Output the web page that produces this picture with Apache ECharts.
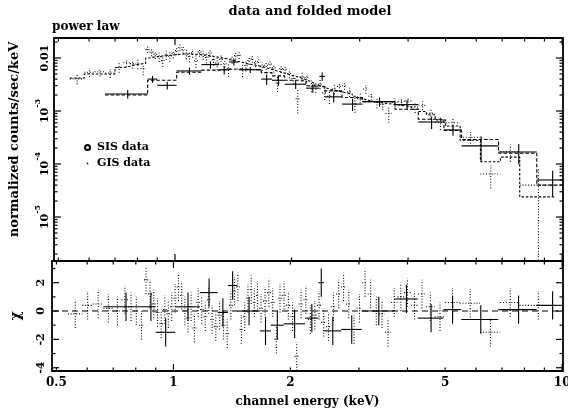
<!DOCTYPE html>
<html><head><meta charset="utf-8">
<script src="https://cdn.jsdelivr.net/npm/echarts@6/dist/echarts.min.js"></script>
<style>html,body{margin:0;padding:0;background:#fff}#c{width:568px;height:412px}</style>
</head><body><div id="c"></div>
<script>
// ---------- data ----------
const sisEdges = [0.535,0.583,0.62,0.66,0.70,0.735,0.765,0.79,0.815,0.84,0.86,0.88,0.90,0.92,0.94,0.96,0.98,1.00,1.02,1.04,1.06,1.08,1.10,1.12,1.145,1.17,1.195,1.22,1.245,1.27,1.30,1.33,1.36,1.39,1.42,1.45,1.48,1.51,1.54,1.57,1.60,1.63,1.66,1.70,1.74,1.78,1.82,1.86,1.90,1.95,2.00,2.05,2.10,2.16,2.22,2.28,2.34,2.40,2.47,2.54,2.62,2.70,2.78,2.87,2.96,3.06,3.16,3.27,3.38,3.50,3.63,3.77,3.92,4.08,4.26,4.46,4.70,5.00,5.45,6.15,6.93,7.77,9.60];
const sisFlux = [0.00403,0.0054,0.0055,0.0052,0.0066,0.00812,0.00784,0.0077,0.00632,0.0144,
  0.0129,0.0117,0.0106,0.0090,0.0114,0.0108,0.0122,0.0138,0.0158,0.0145,
  0.0119,0.0107,0.0125,0.0089,0.0129,0.0115,0.0102,0.0126,0.0093,0.0080,
  0.0094,0.0078,0.0063,0.0097,0.0111,0.0113,0.0060,0.0072,0.0090,0.0096,
  0.0081,0.0085,0.0070,0.0073,0.0077,0.0065,0.0034,0.0063,0.0061,0.0051,
  0.0041,0.0017,0.0044,0.0043,0.0030,0.0029,0.0032,0.0022,0.0019,0.0026,
  0.0029,0.0030,0.0023,0.00135,0.00177,0.0026,0.0019,0.00145,0.00134,0.0009,
  0.00147,0.00153,0.00154,0.00119,0.00128,0.00091,0.00061,0.00060,0.00032,0.000065,
  0.00017,0.00004];
const sisErr = [0.00084,0.0010,0.0010,0.0010,0.00132,0.0014,0.00148,0.00154,0.00158,0.0020,
  0.00208,0.00212,0.00216,0.0022,0.00224,0.00226,0.0023,0.00234,0.00236,0.00238,
  0.00238,0.00238,0.00236,0.00234,0.0023,0.00226,0.00222,0.00218,0.00212,0.00206,
  0.0020,0.00194,0.00186,0.0018,0.00174,0.00168,0.00162,0.00156,0.00152,0.00148,
  0.00144,0.0014,0.00134,0.00128,0.00122,0.00116,0.00112,0.00106,0.0010,0.00094,
  0.0009,0.0008,0.00088,0.00081,0.00075,0.00068,0.00064,0.00059,0.00055,0.00053,
  0.00051,0.00048,0.00046,0.00042,0.00037,0.0005,0.00033,0.00032,0.00031,0.0003,
  0.00029,0.00028,0.00026,0.00027,0.00025,0.00021,0.00017,0.00013,0.00008,0.00003,
  0.00006,0.00004];
const sisModel = [0.0042,0.0050,0.0050,0.0050,0.0066,0.0070,0.0074,0.0077,0.0079,0.0100,
  0.0104,0.0106,0.0108,0.0110,0.0112,0.0113,0.0115,0.0117,0.0118,0.0119,
  0.0119,0.0119,0.0118,0.0117,0.0115,0.0113,0.0111,0.0109,0.0106,0.0103,
  0.0100,0.0097,0.0093,0.0090,0.0087,0.0084,0.0081,0.0078,0.0076,0.0074,
  0.0072,0.0070,0.0067,0.0064,0.0061,0.0058,0.0056,0.0053,0.0050,0.0047,
  0.0045,0.0043,0.0040,0.0037,0.0034,0.0031,0.0029,0.0027,0.0025,0.0024,
  0.0023,0.0022,0.0021,0.0019,0.0017,0.0016,0.0015,0.00145,0.0014,0.00135,
  0.0013,0.00125,0.0012,0.00108,0.00098,0.00085,0.00068,0.00052,0.00028,0.00011,
  0.000135,0.000024];
const sisChi = [-0.2,0.4,0.5,0.2,0.0,0.8,0.3,0.0,-1.0,2.2,
  1.2,0.5,-0.1,-0.9,0.1,-0.2,0.3,0.9,1.7,1.1,
  0.0,-0.5,0.3,-1.2,0.6,0.1,-0.4,0.8,-0.6,-1.1,
  -0.3,-1.0,-1.6,0.4,1.4,1.7,-1.3,-0.4,0.9,1.5,
  0.6,1.1,0.2,0.7,1.3,0.6,-2.0,0.9,1.1,0.4,
  -0.4,-3.2,0.5,0.8,-0.6,-0.3,0.4,-0.8,-1.1,0.3,
  1.2,1.7,0.5,-1.3,0.2,2.0,1.2,0.0,-0.2,-1.5,
  0.6,1.0,1.3,0.4,1.2,0.3,-0.4,0.6,0.55,-1.5,
  0.6,0.4];

const gisEdges = [0.66,0.85,0.90,1.01,1.17,1.30,1.38,1.46,1.67,1.78,1.92,2.18,2.36,2.44,2.70,3.05,3.70,4.25,4.95,5.50,6.85,8.60,10.30];
const gisFlux = [0.0021,0.0040,0.00305,0.0057,0.0075,0.0060,0.0084,0.0060,0.0040,0.0038,0.0032,0.0027,0.0045,0.00185,0.00135,0.0015,0.00132,0.00062,0.00044,0.00022,0.000168,0.00005];
const gisErr = [0.0004,0.0006,0.0005,0.0009,0.0012,0.0011,0.0012,0.0008,0.0009,0.0008,0.0006,0.0005,0.0008,0.0004,0.00035,0.0003,0.00028,0.00016,0.0001,0.00011,0.00007,0.000025];
const gisModel = [0.0020,0.0038,0.0038,0.0054,0.0059,0.0061,0.0062,0.0060,0.0053,0.0046,0.0038,0.0030,0.0029,0.0024,0.0018,0.0015,0.00108,0.0007,0.00043,0.00029,0.00016,0.00004];
const gisChi = [0.3,0.3,-1.5,0.3,1.3,-0.1,1.8,0.0,-1.4,-1.0,-0.9,-0.5,2.0,-1.4,-1.3,0.0,0.85,-0.5,0.1,-0.6,0.1,0.4];
const CHI_ERR = 1;

// axes ranges and tick labels
const xRange = [0.487, 10.05];
const yTopRange = [1.48e-6, 0.02384];
const yBotRange = [-4.23, 3.53];
const xTickValues = [0.5,0.6,0.7,0.8,0.9,1,2,3,4,5,6,7,8,9,10];
const xMajorTicks = [1,10];
const xLabelValues = [0.5,1,2,5,10];
const xLabelTexts = ['0.5','1','2','5','10'];
const yTopMajorTicks = [1e-5,1e-4,1e-3,1e-2];
const yTopLabelValues = [0.01,1e-3,1e-4,1e-5];
const yTopLabelTexts = ['0.01','{m|10}{s|-3}','{m|10}{s|-4}','{m|10}{s|-5}'];
const yBotTickValues = [-4,-3,-2,-1,0,1,2,3];
const yBotMajorTicks = [-4,-2,0,2];
const yBotLabelValues = [-4,-2,0,2];
const yBotLabelTexts = ['-4','-2','0','2'];

// ---------- helpers ----------
const FONT = '"DejaVu Serif", "Liberation Serif", serif';
const ts = (size, extra) => Object.assign({fontFamily: FONT, fontSize: size, fontWeight: 'bold', color: '#000'}, extra || {});

const yTopTickValues = [];
for (let e = -6; e <= -2; e++) for (let k = 1; k <= 9; k++) {
  const v = k * Math.pow(10, e);
  if (v >= yTopRange[0] && v <= yTopRange[1]) yTopTickValues.push(v);
}

function binBars(edges, vals, errs, floor) {
  return vals.map((v, i) => {
    let vlo = v - errs[i];
    if (vlo <= floor) vlo = floor / 2;
    return [(edges[i] + edges[i+1]) / 2, v, edges[i], edges[i+1], vlo, v + errs[i]];
  });
}
function chiBars(edges, chi) {
  return chi.map((c, i) => [(edges[i] + edges[i+1]) / 2, c, edges[i], edges[i+1], c - CHI_ERR, c + CHI_ERR]);
}
function steps(edges, model) {
  const d = model.map((m, i) => [edges[i], m]);
  d.push([edges[edges.length - 1], model[model.length - 1]]);
  return d;
}
function errRender(style) {
  return function (params, api) {
    const xc = api.value(0), v = api.value(1), lo = api.value(2), hi = api.value(3), vlo = api.value(4), vhi = api.value(5);
    const a = api.coord([lo, v]), b = api.coord([hi, v]);
    const c = api.coord([xc, vlo]), d = api.coord([xc, vhi]);
    const st = () => Object.assign({stroke: '#000', fill: null}, style);
    return {type: 'group', children: [
      {type: 'line', shape: {x1: a[0], y1: a[1], x2: b[0], y2: b[1]}, style: st()},
      {type: 'line', shape: {x1: c[0], y1: c[1], x2: d[0], y2: d[1]}, style: st()}
    ]};
  };
}
const tickStyle = () => ({stroke: '#000', lineWidth: 1.2});
function xTickRender(params, api) {
  const cs = params.coordSys;
  const px = api.coord([api.value(0), api.value(1)])[0];
  const L = api.value(2) ? 7 : 3.5;
  return {type: 'group', children: [
    {type: 'line', shape: {x1: px, y1: cs.y, x2: px, y2: cs.y + L}, style: tickStyle()},
    {type: 'line', shape: {x1: px, y1: cs.y + cs.height, x2: px, y2: cs.y + cs.height - L}, style: tickStyle()}
  ]};
}
function yTickRender(params, api) {
  const cs = params.coordSys;
  const py = api.coord([api.value(0), api.value(1)])[1];
  const L = api.value(2) ? 7 : 3.5;
  return {type: 'group', children: [
    {type: 'line', shape: {x1: cs.x, y1: py, x2: cs.x + L, y2: py}, style: tickStyle()},
    {type: 'line', shape: {x1: cs.x + cs.width, y1: py, x2: cs.x + cs.width - L, y2: py}, style: tickStyle()}
  ]};
}
const supRich = {
  m: {fontFamily: FONT, fontWeight: 'bold', fontSize: 11, padding: [6, 0, 0, 0], fill: '#000'},
  s: {fontFamily: FONT, fontWeight: 'bold', fontSize: 8, verticalAlign: 'top', fill: '#000'}
};
function yLabelRender(texts, dx) {
  return function (params, api) {
    const cs = params.coordSys;
    const py = api.coord([api.value(0), api.value(1)])[1];
    return {type: 'text', x: cs.x - dx, y: py, rotation: Math.PI / 2,
      style: {text: texts[api.value(2)], fill: '#000', fontFamily: FONT, fontWeight: 'bold', fontSize: 11,
              align: 'center', verticalAlign: 'bottom', rich: supRich}};
  };
}
function xLabelRender(params, api) {
  const cs = params.coordSys;
  const px = api.coord([api.value(0), api.value(1)])[0];
  return {type: 'text', x: px, y: cs.y + cs.height + 6,
    style: {text: xLabelTexts[api.value(2)], fill: '#000', fontFamily: FONT, fontWeight: 'bold', fontSize: 12,
            align: 'center', verticalAlign: 'top'}};
}

const hiddenAxis = {axisLine: {show: false}, axisTick: {show: false}, axisLabel: {show: false}, splitLine: {show: false}};
const SIS_STYLE = {lineWidth: 1.1, lineDash: [1, 1.8]};
const GIS_STYLE = {lineWidth: 1.1};

const option = {
  backgroundColor: '#fff',
  animation: false,
  color: ['#000'],
  title: [
    {text: 'data and folded model', left: 310, top: 5, textAlign: 'center', padding: 0, textStyle: ts(13)},
    {text: 'power law', left: 52, top: 21, padding: 0, textStyle: ts(12)}
  ],
  legend: {
    orient: 'vertical', left: 84, top: 142, padding: 0, itemWidth: 5, itemHeight: 5, itemGap: 5,
    selectedMode: false,
    data: [{name: 'SIS data', icon: 'emptyCircle'}, {name: 'GIS data', icon: 'path://M0,0M10,10M3.5,3.5h3v3h-3z'}],
    textStyle: ts(11, {padding: [0, 0, 0, 2]})
  },
  grid: [
    {left: 52, top: 38, width: 511, height: 223, show: true, borderColor: '#000', borderWidth: 1.8, backgroundColor: 'transparent'},
    {left: 52, top: 261, width: 511, height: 110, show: true, borderColor: '#000', borderWidth: 1.8, backgroundColor: 'transparent'}
  ],
  xAxis: [
    Object.assign({type: 'log', logBase: 10, gridIndex: 0, min: xRange[0], max: xRange[1]}, hiddenAxis),
    Object.assign({type: 'log', logBase: 10, gridIndex: 1, min: xRange[0], max: xRange[1],
      name: 'channel energy (keV)', nameLocation: 'middle', nameGap: 25, nameTextStyle: ts(12)}, hiddenAxis)
  ],
  yAxis: [
    Object.assign({type: 'log', logBase: 10, gridIndex: 0, min: yTopRange[0], max: yTopRange[1],
      name: 'normalized counts/sec/keV', nameLocation: 'middle', nameRotate: 90, nameGap: 33,
      nameTextStyle: ts(13, {padding: [0, 0, 0, 20]})}, hiddenAxis),
    Object.assign({type: 'value', gridIndex: 1, min: yBotRange[0], max: yBotRange[1],
      name: 'χ', nameLocation: 'middle', nameRotate: 90, nameGap: 29, nameTextStyle: ts(14)}, hiddenAxis)
  ],
  series: [
    {type: 'line', name: 'SIS model', xAxisIndex: 0, yAxisIndex: 0, step: 'end', symbol: 'none',
      data: steps(sisEdges, sisModel), lineStyle: {color: '#000', width: 1.1, type: [2.5, 1.8]}, silent: true},
    {type: 'line', name: 'GIS model', xAxisIndex: 0, yAxisIndex: 0, step: 'end', symbol: 'none',
      data: steps(gisEdges, gisModel), lineStyle: {color: '#000', width: 1.1, type: [3.5, 2]}, silent: true},
    {type: 'custom', name: 'SIS data', xAxisIndex: 0, yAxisIndex: 0, clip: true, itemStyle: {color: '#000'},
      encode: {x: [0, 2, 3], y: [1, 4, 5]}, data: binBars(sisEdges, sisFlux, sisErr, yTopRange[0]),
      renderItem: errRender(SIS_STYLE), silent: true},
    {type: 'custom', name: 'GIS data', xAxisIndex: 0, yAxisIndex: 0, clip: true, itemStyle: {color: '#000'},
      encode: {x: [0, 2, 3], y: [1, 4, 5]}, data: binBars(gisEdges, gisFlux, gisErr, yTopRange[0]),
      renderItem: errRender(GIS_STYLE), silent: true},
    {type: 'line', name: 'zero', xAxisIndex: 1, yAxisIndex: 1, symbol: 'none',
      data: [[xRange[0], 0], [xRange[1], 0]], lineStyle: {color: '#000', width: 1.1, type: [6, 4]}, silent: true},
    {type: 'custom', name: 'SIS data', xAxisIndex: 1, yAxisIndex: 1, clip: true, itemStyle: {color: '#000'},
      encode: {x: [0, 2, 3], y: [1, 4, 5]}, data: chiBars(sisEdges, sisChi),
      renderItem: errRender(SIS_STYLE), silent: true},
    {type: 'custom', name: 'GIS data', xAxisIndex: 1, yAxisIndex: 1, clip: true, itemStyle: {color: '#000'},
      encode: {x: [0, 2, 3], y: [1, 4, 5]}, data: chiBars(gisEdges, gisChi),
      renderItem: errRender(GIS_STYLE), silent: true},
    // ticks
    {type: 'custom', xAxisIndex: 0, yAxisIndex: 0, silent: true,
      data: xTickValues.map(v => [v, 1e-4, xMajorTicks.includes(v) ? 1 : 0]), renderItem: xTickRender},
    {type: 'custom', xAxisIndex: 1, yAxisIndex: 1, silent: true,
      data: xTickValues.map(v => [v, 0, xMajorTicks.includes(v) ? 1 : 0]), renderItem: xTickRender},
    {type: 'custom', xAxisIndex: 0, yAxisIndex: 0, silent: true,
      data: yTopTickValues.map(v => [1, v, yTopMajorTicks.some(m => Math.abs(m - v) / m < 1e-9) ? 1 : 0]), renderItem: yTickRender},
    {type: 'custom', xAxisIndex: 1, yAxisIndex: 1, silent: true,
      data: yBotTickValues.map(v => [1, v, yBotMajorTicks.includes(v) ? 1 : 0]), renderItem: yTickRender},
    // tick labels
    {type: 'custom', xAxisIndex: 1, yAxisIndex: 1, silent: true,
      data: xLabelValues.map((v, i) => [v, 0, i]), renderItem: xLabelRender},
    {type: 'custom', xAxisIndex: 0, yAxisIndex: 0, silent: true,
      data: yTopLabelValues.map((v, i) => [1, v, i]), renderItem: yLabelRender(yTopLabelTexts, 3)},
    {type: 'custom', xAxisIndex: 1, yAxisIndex: 1, silent: true,
      data: yBotLabelValues.map((v, i) => [1, v, i]), renderItem: yLabelRender(yBotLabelTexts, 5)}
  ]
};
const chart = echarts.init(document.getElementById('c'));
chart.setOption(option);
</script>
</body></html>
